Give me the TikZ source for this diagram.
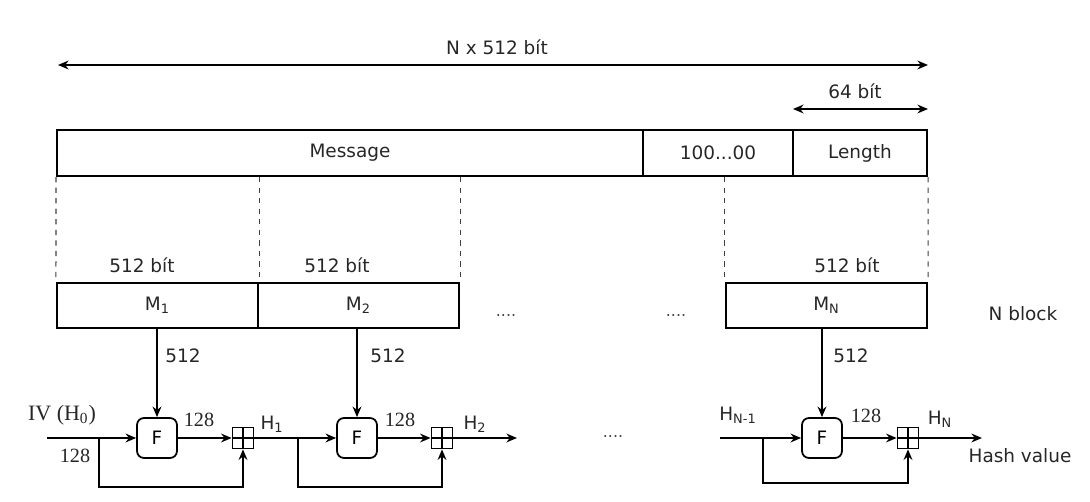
\documentclass[tikz,border=0pt]{standalone}
\usepackage{fontspec}
\setmainfont{DejaVu Sans}
\newfontfamily\serifx{Liberation Serif}
\usetikzlibrary{arrows.meta}
\begin{document}
\begin{tikzpicture}[x=0.02cm,y=-0.02cm,
  font=\fontsize{10.5}{12}\selectfont,
  box/.style={draw,line width=1.2pt,inner sep=0pt,text=black!85},
  fbox/.style={draw,line width=1pt,rounded corners=4pt,minimum width=0.8cm,minimum height=0.8cm,inner sep=0pt},
  pbox/.style={draw,line width=1pt,minimum width=0.42cm,minimum height=0.42cm,inner sep=0pt,
    path picture={\draw[line width=0.8pt] (path picture bounding box.north) -- (path picture bounding box.south)
      (path picture bounding box.west) -- (path picture bounding box.east);}},
  arr/.style={line width=1.1pt,-{Stealth[length=6pt,width=5pt]}},
  darr/.style={line width=1.1pt,{Stealth[length=6pt,width=5pt]}-{Stealth[length=6pt,width=5pt]}},
  dsh/.style={line width=0.6pt,black!75,dash pattern=on 3pt off 3pt},
  lbl/.style={inner sep=0pt,text=black!85},
  dots/.style={inner sep=0pt,text=black!75,font=\small},
  slbl/.style={inner sep=0pt,font=\serifx\fontsize{11.5}{13}\selectfont,text=black!85}]
\useasboundingbox (0,0) rectangle (1090,502);
% top bar
\node[box,minimum width=11.72cm,minimum height=0.92cm] (msg) at (350,153) {Message};
\node[box,minimum width=3cm,minimum height=0.92cm] (pad) at (718,153) {100...00};
\node[box,minimum width=2.68cm,minimum height=0.92cm] (len) at (860,153) {Length};
% dimension arrows
\coordinate (tl) at (58,65);
\coordinate (tr) at (928,65);
\draw[darr] (tl) -- (tr);
\node[lbl] (ntxt) at (497,47) {N x 512 bít};
\coordinate (sl) at (793,109);
\coordinate (sr) at (928,109);
\draw[darr] (sl) -- (sr);
\node[lbl] (stxt) at (855,91) {64 bít};
% blocks
\node[box,minimum width=4.02cm,minimum height=0.9cm] (m1) at (157.5,305.5) {M\textsubscript{1}};
\node[box,minimum width=4.02cm,minimum height=0.9cm] (m2) at (358.5,305.5) {M\textsubscript{2}};
\node[box,minimum width=4.02cm,minimum height=0.9cm] (mn) at (826.5,305.5) {M\textsubscript{N}};
\node[dots] (d1) at (506,316) {....};
\node[dots] (d2) at (676,316) {....};
\node[lbl] (nb) at (1023,314) {N block};
% dashed guides
\draw[dsh] (msg.south west) -- (m1.north west);
\draw[dsh] (m1.north east |- msg.south) -- (m1.north east);
\draw[dsh] (m2.north east |- msg.south) -- (m2.north east);
\draw[dsh] (mn.north west |- msg.south) -- (mn.north west);
\draw[dsh] (len.south east) -- (mn.north east);
\node[lbl] (b1t) at (142,265) {512 bít};
\node[lbl] (b2t) at (337,265) {512 bít};
\node[lbl] (bnt) at (847,265) {512 bít};
% compression stages
\node[fbox] (f1) at (157,438) {F};
\node[fbox] (f2) at (357,438) {F};
\node[fbox] (f3) at (822,438) {F};
\node[pbox] (p1) at (243,438) {};
\node[pbox] (p2) at (442,438) {};
\node[pbox] (p3) at (908,438) {};
\draw[arr] (f1.north |- m1.south) -- (f1.north);
\draw[arr] (f2.north |- m2.south) -- (f2.north);
\draw[arr] (f3.north |- mn.south) -- (f3.north);
\node[lbl] (l1) at (183,356) {512};
\node[lbl] (l2) at (388,356) {512};
\node[lbl] (l3) at (851,356) {512};
% chain
\coordinate (iv) at (47,438);
\coordinate (br1) at (99,438);
\coordinate (br2) at (298,438);
\coordinate (hs) at (720,438);
\coordinate (br3) at (763,438);
\coordinate (e2) at (517,438);
\coordinate (en) at (982,438);
\draw[arr] (iv) -- (f1.west);
\draw[arr] (br1) -- ++(0,49) -| (p1.south);
\draw[arr] (f1.east) -- (p1.west);
\draw[arr] (p1.east) -- (f2.west);
\draw[arr] (br2) -- ++(0,49) -| (p2.south);
\draw[arr] (f2.east) -- (p2.west);
\draw[arr] (p2.east) -- (e2);
\draw[arr] (hs) -- (f3.west);
\draw[arr] (br3) -- ++(0,45) -| (p3.south);
\draw[arr] (f3.east) -- (p3.west);
\draw[arr] (p3.east) -- (en);
\node[dots] (d3) at (613,437) {....};
% labels
\node[slbl,font=\serifx\fontsize{12.5}{14}\selectfont] (ivt) at (62,415) {IV (H\textsubscript{0})};
\node[slbl] (c0) at (75,456) {128};
\node[slbl] (c1) at (199,420) {128};
\node[slbl] (c2) at (400,420) {128};
\node[slbl] (c3) at (866,416) {128};
\node[lbl] (h1) at (272,424) {H\textsubscript{1}};
\node[lbl] (h2) at (475,424) {H\textsubscript{2}};
\node[lbl] (hn1) at (738,415) {H\textsubscript{N-1}};
\node[lbl] (hn) at (940,419) {H\textsubscript{N}};
\node[lbl] (hv) at (1020,456) {Hash value};
\end{tikzpicture}
\end{document}
